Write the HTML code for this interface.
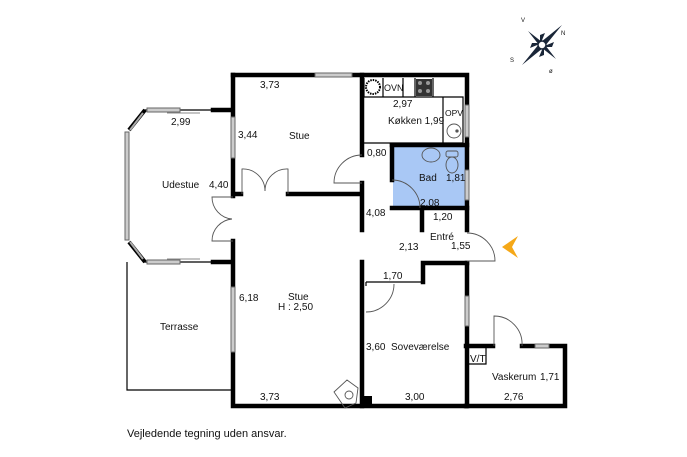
<!DOCTYPE html>
<html><head><meta charset="utf-8"><style>
body{margin:0;background:#fff}
svg{display:block}
text{font-family:"Liberation Sans",sans-serif;font-size:10px;fill:#111}
</style></head><body>
<svg width="687" height="457" viewBox="0 0 687 457" xmlns="http://www.w3.org/2000/svg">
<rect width="687" height="457" fill="#fff"/>
<rect x="393" y="146" width="73" height="62" fill="#a9c8f5"/>
<g stroke="#000" stroke-width="4.5" fill="none" stroke-linecap="square">
<path d="M233 75 H467 V230"/>
<path d="M467 263 V406"/>
<path d="M233 75 V196"/>
<path d="M233 241 V406 H466"/>
<path d="M466 346 H493"/><path d="M522 346 H565 V406 H466"/>
<path d="M362 75 V155"/><path d="M362 183 V230"/><path d="M362 262 V406"/>
<path d="M288 194 H360"/><path d="M235 194 H241"/>
<path d="M392 145 H467"/><path d="M392 145 V180"/><path d="M392 208 H467"/>
<path d="M422 208 V230"/>
<path d="M423 282 V263 H467"/>
<path d="M213 110 H231"/><path d="M213 262 H231"/>
</g>
<rect x="362" y="396" width="10" height="12" fill="#000"/>
<g stroke="#000" stroke-width="1.2" fill="none">
<path d="M366 282 H423"/><path d="M366 282 V286"/>
<path d="M364 97 H463 V143 H364"/>
<path d="M364 78 V97"/>
<path d="M383 78 V97 M403 78 V97 M415 78 V97 M433 78 V97 M443 97 V143"/>
<path d="M143 110 H213 M143 262 H213"/>
<path d="M127 262 V390 H233"/>
<path d="M466 346 V406"/>
<path d="M468 346 V364 H486 V346"/>
</g>
<g fill="#ccc" stroke="#666" stroke-width="1">
<rect x="315" y="73" width="37" height="4"/>
<rect x="231" y="117" width="4" height="41"/>
<rect x="231" y="287" width="4" height="65"/>
<rect x="465" y="105" width="4" height="32"/>
<rect x="465" y="170" width="4" height="30"/>
<rect x="465" y="296" width="4" height="30"/>
<rect x="535" y="344" width="14" height="4"/>
<rect x="147" y="108" width="33" height="4"/>
<rect x="147" y="260" width="33" height="4"/>
<rect x="125" y="132" width="4" height="108"/>
</g>
<g stroke="#000" stroke-width="4" fill="none">
<path d="M145 110 L129 130"/><path d="M145 262 L129 242"/>
</g>
<g stroke="#aaa" stroke-width="2" fill="none"><path d="M143 113 L130 130 M143 259 L130 242"/></g>
<g stroke="#888" stroke-width="1" fill="none"><path d="M167 113 H200 M167 259 H200"/></g>
<g stroke="#555" stroke-width="0.9" fill="none">
<path d="M242 194 V169 A22 22 0 0 1 265 191"/>
<path d="M288 194 V169 A22 22 0 0 0 265 191"/>
<path d="M233 197 H212 A22 22 0 0 0 232 219"/>
<path d="M233 241 H212 A22 22 0 0 1 232 219"/>
<path d="M362 155 A28 28 0 0 0 334 183 H362"/>
<path d="M392 180 A28 28 0 0 1 420 208"/>
<path d="M467 233 A28 28 0 0 1 495 261 H467"/>
<path d="M366 312 A28 28 0 0 0 394 284"/>
<path d="M494 346 V316 A28 28 0 0 1 522 346"/>
<circle cx="454" cy="131" r="7"/><circle cx="457" cy="131" r="1.2" fill="#555"/>
<ellipse cx="431" cy="155" rx="9" ry="7"/>
<rect x="446" y="151" width="12" height="6" rx="2"/><ellipse cx="452" cy="165" rx="6" ry="8"/>
<path d="M334 392 L347 380 L358 388 L356 403 L345 408 Z"/>
<circle cx="349" cy="395" r="4"/>
</g>
<circle cx="373" cy="87" r="7" fill="none" stroke="#000" stroke-width="2" stroke-dasharray="1.5 1"/>
<rect x="416" y="79" width="16" height="17" fill="#333"/>
<g fill="#999"><circle cx="420" cy="83" r="2"/><circle cx="428" cy="83" r="2"/><circle cx="420" cy="91" r="2"/><circle cx="428" cy="91" r="2"/></g>
<path d="M518 236 L502 247 L518 258 L512 247 Z" fill="#f5a818"/>
<g transform="translate(542,45)">
<path d="M-20 20 L-3 -1 L1 3 Z M20 -20 L3 1 L-1 -3 Z M-14 -14 L0 -3 L-3 0 Z M14 14 L0 3 L3 0 Z M-12 3 L0 -2 L-10 -2 Z M12 -3 L0 2 L10 2Z M3 -12 L-2 0 L-2 -10Z M-3 12 L2 0 L2 10Z" fill="#1a2638"/>
<circle r="4" fill="#fff" stroke="#1a2638" stroke-width="1.5"/>
</g>
<text x="521" y="22" style="font-size:6px">V</text><text x="561" y="35" style="font-size:6px">N</text><text x="510" y="62" style="font-size:6px">S</text><text x="549" y="73" style="font-size:6px">ø</text>
<text x="260" y="88">3,73</text>
<text x="171" y="125">2,99</text>
<text x="238" y="138">3,44</text>
<text x="289" y="139">Stue</text>
<text x="162" y="188">Udestue</text>
<text x="209" y="188">4,40</text>
<text x="239" y="301">6,18</text>
<text x="288" y="300">Stue</text>
<text x="278" y="310">H : 2,50</text>
<text x="160" y="330">Terrasse</text>
<text x="260" y="400">3,73</text>
<text x="384" y="91" style="font-size:9px">OVN</text>
<text x="393" y="107">2,97</text>
<text x="388" y="124">Køkken 1,99</text>
<text x="445" y="116" style="font-size:8.5px">OPV</text>
<text x="367" y="156">0,80</text>
<text x="419" y="181">Bad</text>
<text x="446" y="181">1,81</text>
<text x="420" y="206">2,08</text>
<text x="366" y="216">4,08</text>
<text x="433" y="220">1,20</text>
<text x="430" y="240">Entré</text>
<text x="451" y="249">1,55</text>
<text x="399" y="250">2,13</text>
<text x="383" y="279">1,70</text>
<text x="366" y="350">3,60</text>
<text x="391" y="350">Soveværelse</text>
<text x="470" y="362">V/T</text>
<text x="492" y="380">Vaskerum</text>
<text x="540" y="380">1,71</text>
<text x="504" y="400">2,76</text>
<text x="405" y="400">3,00</text>
<text x="127" y="437" style="font-size:11px">Vejledende tegning uden ansvar.</text>
</svg>
</body></html>
